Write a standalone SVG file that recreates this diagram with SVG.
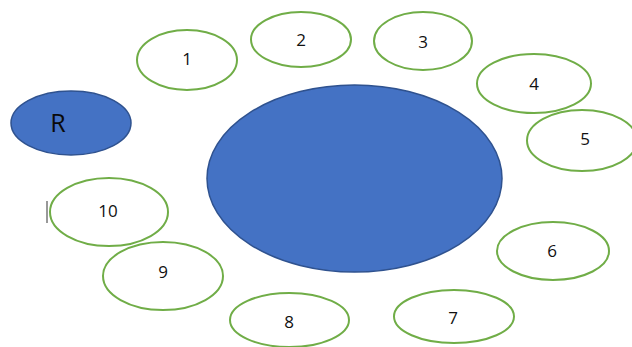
<svg xmlns="http://www.w3.org/2000/svg" width="632" height="347" viewBox="0 0 632 347">
<style>
.n{fill:#fff;stroke:#70AD47;stroke-width:2}
.b{fill:#4472C4;stroke:#2F528F;stroke-width:1.5}
.t{font-family:"Open Sans","Liberation Sans",sans-serif;font-size:17px;fill:#111;text-anchor:middle;dominant-baseline:central}
</style>
<rect width="632" height="347" fill="#fff"/>
<g id="center"><ellipse class="b" cx="354.5" cy="178.5" rx="147.5" ry="93.5"/></g>
<g id="R"><ellipse class="b" cx="71" cy="123" rx="60" ry="32"/><text class="t" x="58" y="122" style="font-size:25px;fill:#0a0a0a">R</text></g>
<g id="n1"><ellipse class="n" cx="187" cy="60" rx="50" ry="30"/><text class="t" x="187" y="58">1</text></g>
<g id="n2"><ellipse class="n" cx="301" cy="39.5" rx="50" ry="27.5"/><text class="t" x="301" y="39">2</text></g>
<g id="n3"><ellipse class="n" cx="423" cy="41" rx="49" ry="29"/><text class="t" x="423" y="41">3</text></g>
<g id="n4"><ellipse class="n" cx="534" cy="83.5" rx="57" ry="29.5"/><text class="t" x="534" y="83">4</text></g>
<g id="n5"><ellipse class="n" cx="582" cy="140.5" rx="55" ry="30.5"/><text class="t" x="585" y="138">5</text></g>
<g id="n6"><ellipse class="n" cx="553" cy="251" rx="56" ry="29"/><text class="t" x="552" y="250">6</text></g>
<g id="n7"><ellipse class="n" cx="454" cy="316.5" rx="60" ry="26.5"/><text class="t" x="453" y="317">7</text></g>
<g id="n8"><ellipse class="n" cx="289.5" cy="320" rx="59.5" ry="27"/><text class="t" x="289" y="321">8</text></g>
<g id="n9"><ellipse class="n" cx="163" cy="276" rx="60" ry="34"/><text class="t" x="163" y="271">9</text></g>
<g id="n10"><ellipse class="n" cx="109" cy="212" rx="59" ry="34"/><text class="t" x="108" y="210">10</text></g>
<g id="connectors"><line x1="47" y1="201" x2="47" y2="223" stroke="#777" stroke-width="1.5"/></g>
</svg>
